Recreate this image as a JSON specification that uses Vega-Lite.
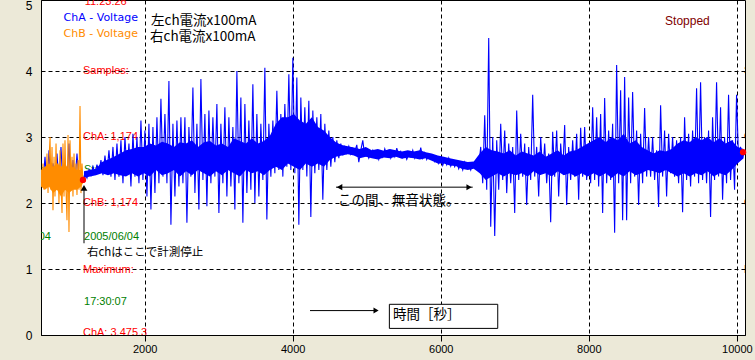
{
"$schema":"https://vega.github.io/schema/vega-lite/v6.json",
"width":704,"height":335,
"autosize":{"type":"none"},
"padding":{"left":41,"top":0,"right":10,"bottom":25},
"background":"#ECE9D8",
"config":{"view":{"fill":"white","stroke":"black","strokeWidth":1}},
"datasets":{
"blue":[{"t":600,"v":2.45},{"t":627,"v":2.3},{"t":654,"v":2.7},{"t":681,"v":2.25},{"t":708,"v":2.8},{"t":735,"v":2.3},{"t":762,"v":2.6},{"t":789,"v":2.2},{"t":816,"v":2.75},{"t":843,"v":2.3},{"t":870,"v":2.85},{"t":897,"v":2.25},{"t":924,"v":2.6},{"t":951,"v":2.3},{"t":978,"v":2.9},{"t":1005,"v":2.2},{"t":1032,"v":2.65},{"t":1059,"v":2.3},{"t":1086,"v":2.75},{"t":1113,"v":2.35},{"t":1140,"v":2.5},{"t":1167,"v":2.35},
{"t":1194,"v":2.45},{"t":1221,"v":2.38},{"t":1248,"v":2.5},{"t":1275,"v":2.42},{"t":1302,"v":2.55},{"t":1329,"v":2.45},{"t":1356,"v":2.58},{"t":1383,"v":2.47},
{"t":1410,"v":2.65},{"t":1437,"v":2.42},{"t":1464,"v":2.72},{"t":1491,"v":2.45},{"t":1518,"v":2.8},{"t":1545,"v":2.4},{"t":1572,"v":2.85},{"t":1599,"v":2.35},{"t":1626,"v":2.9},{"t":1653,"v":2.4},{"t":1680,"v":2.95},{"t":1707,"v":2.3},{"t":1734,"v":3.0},{"t":1761,"v":2.45},{"t":1788,"v":2.9},{"t":1815,"v":2.25},{"t":1842,"v":3.05},{"t":1869,"v":2.4},{"t":1896,"v":3.0},{"t":1923,"v":2.3},
{"t":1950,"v":3.25},{"t":1977,"v":2.35},{"t":2004,"v":3.1},{"t":2031,"v":2.1},{"t":2058,"v":3.2},{"t":2085,"v":1.9},{"t":2112,"v":3.15},{"t":2139,"v":2.15},{"t":2166,"v":3.3},{"t":2193,"v":2.3},{"t":2220,"v":3.58},{"t":2247,"v":2.4},{"t":2274,"v":3.35},{"t":2301,"v":2.3},{"t":2328,"v":3.85},{"t":2355,"v":1.67},{"t":2382,"v":3.2},{"t":2409,"v":2.1},{"t":2436,"v":3.25},{"t":2463,"v":2.25},{"t":2490,"v":3.3},{"t":2517,"v":2.3},{"t":2544,"v":3.3},{"t":2571,"v":1.7},{"t":2598,"v":3.15},{"t":2625,"v":2.4},{"t":2652,"v":3.75},{"t":2679,"v":2.15},{"t":2706,"v":3.2},{"t":2733,"v":1.9},{"t":2760,"v":3.88},{"t":2787,"v":2.35},{"t":2814,"v":3.35},{"t":2841,"v":1.95},{"t":2868,"v":3.4},{"t":2895,"v":2.3},{"t":2922,"v":3.3},{"t":2949,"v":2.4},{"t":2976,"v":3.5},{"t":3003,"v":1.85},{"t":3030,"v":3.2},{"t":3057,"v":2.3},{"t":3084,"v":3.45},{"t":3111,"v":2.1},{"t":3138,"v":3.3},{"t":3165,"v":2.25},{"t":3192,"v":3.15},{"t":3219,"v":1.9},{"t":3246,"v":4.0},{"t":3273,"v":2.3},{"t":3300,"v":3.6},{"t":3327,"v":1.7},{"t":3354,"v":3.5},{"t":3381,"v":2.15},{"t":3408,"v":3.25},{"t":3435,"v":2.2},{"t":3462,"v":3.8},{"t":3489,"v":2.0},{"t":3516,"v":3.35},{"t":3543,"v":2.1},{"t":3570,"v":3.2},{"t":3597,"v":2.35},{"t":3624,"v":4.05},{"t":3651,"v":1.75},{"t":3678,"v":3.2},{"t":3705,"v":2.4},
{"t":3732,"v":3.25},{"t":3759,"v":2.45},{"t":3786,"v":3.7},{"t":3813,"v":2.5},{"t":3840,"v":3.35},{"t":3867,"v":2.4},{"t":3894,"v":3.5},{"t":3921,"v":2.55},{"t":3948,"v":3.95},{"t":3975,"v":2.5},{"t":4002,"v":4.2},{"t":4029,"v":2.45},{"t":4056,"v":3.9},{"t":4083,"v":1.67},{"t":4110,"v":3.6},{"t":4137,"v":2.5},{"t":4164,"v":3.45},{"t":4191,"v":2.4},{"t":4218,"v":3.55},{"t":4245,"v":1.79},{"t":4272,"v":3.4},{"t":4299,"v":2.45},{"t":4326,"v":3.3},{"t":4353,"v":2.5},{"t":4380,"v":3.35},{"t":4407,"v":2.05},{"t":4434,"v":3.2},{"t":4461,"v":2.5},{"t":4488,"v":3.1},{"t":4515,"v":2.55},
{"t":4542,"v":3.0},{"t":4569,"v":2.62},{"t":4596,"v":2.95},{"t":4623,"v":2.68},{"t":4650,"v":2.9},{"t":4677,"v":2.72},{"t":4704,"v":2.85},
{"t":4731,"v":2.76},{"t":4758,"v":2.86},{"t":4785,"v":2.74},{"t":4812,"v":2.83},{"t":4839,"v":2.78},{"t":4866,"v":2.88},{"t":4893,"v":2.62},{"t":4920,"v":2.8},{"t":4947,"v":2.95},{"t":4974,"v":2.7},{"t":5001,"v":2.78},{"t":5028,"v":2.68},{"t":5055,"v":2.75},{"t":5082,"v":2.8},{"t":5109,"v":2.7},{"t":5136,"v":2.76},{"t":5163,"v":2.66},{"t":5190,"v":2.78},{"t":5217,"v":2.7},{"t":5244,"v":2.82},{"t":5271,"v":2.72},{"t":5298,"v":2.79},{"t":5325,"v":2.68},{"t":5352,"v":2.76},{"t":5379,"v":2.7},{"t":5406,"v":2.83},{"t":5433,"v":2.72},{"t":5460,"v":2.78},{"t":5487,"v":2.69},{"t":5514,"v":2.75},{"t":5541,"v":2.66},{"t":5568,"v":2.74},{"t":5595,"v":2.7},{"t":5622,"v":2.8},{"t":5649,"v":2.68},{"t":5676,"v":2.77},{"t":5703,"v":2.7},{"t":5730,"v":2.84},{"t":5757,"v":2.68},{"t":5784,"v":2.76},{"t":5811,"v":2.66},{"t":5838,"v":2.74},{"t":5865,"v":2.67},{"t":5892,"v":2.72},{"t":5919,"v":2.63},{"t":5946,"v":2.7},{"t":5973,"v":2.6},{"t":6000,"v":2.67},{"t":6027,"v":2.57},{"t":6054,"v":2.66},{"t":6081,"v":2.58},{"t":6108,"v":2.68},{"t":6135,"v":2.56},{"t":6162,"v":2.64},{"t":6189,"v":2.55},{"t":6216,"v":2.62},{"t":6243,"v":2.52},{"t":6270,"v":2.6},{"t":6297,"v":2.5},{"t":6324,"v":2.62},{"t":6351,"v":2.54},{"t":6378,"v":2.58},{"t":6405,"v":2.5},{"t":6432,"v":2.6},{"t":6459,"v":2.53},{"t":6486,"v":2.62},{"t":6513,"v":2.55},
{"t":6540,"v":2.85},{"t":6567,"v":2.3},{"t":6594,"v":3.33},{"t":6621,"v":2.2},{"t":6648,"v":4.5},{"t":6675,"v":1.64},{"t":6702,"v":3.0},{"t":6729,"v":1.5},{"t":6756,"v":2.95},{"t":6783,"v":2.2},{"t":6810,"v":3.2},{"t":6837,"v":2.35},{"t":6864,"v":3.1},{"t":6891,"v":2.15},{"t":6918,"v":2.9},{"t":6945,"v":2.3},{"t":6972,"v":2.85},{"t":6999,"v":1.85},{"t":7026,"v":3.4},{"t":7053,"v":2.35},{"t":7080,"v":3.05},{"t":7107,"v":2.4},{"t":7134,"v":2.9},{"t":7161,"v":1.97},{"t":7188,"v":2.85},{"t":7215,"v":2.35},{"t":7242,"v":3.64},{"t":7269,"v":2.4},{"t":7296,"v":2.85},{"t":7323,"v":2.1},{"t":7350,"v":3.0},{"t":7377,"v":2.45},{"t":7404,"v":2.9},{"t":7431,"v":2.3},{"t":7458,"v":2.75},{"t":7485,"v":1.71},{"t":7512,"v":3.08},{"t":7539,"v":2.4},{"t":7566,"v":3.1},{"t":7593,"v":2.1},{"t":7620,"v":2.9},{"t":7647,"v":2.45},{"t":7674,"v":3.18},{"t":7701,"v":1.97},{"t":7728,"v":2.85},{"t":7755,"v":2.35},{"t":7782,"v":2.95},{"t":7809,"v":2.4},{"t":7836,"v":3.05},{"t":7863,"v":2.05},{"t":7890,"v":3.14},{"t":7917,"v":2.4},{"t":7944,"v":3.15},{"t":7971,"v":2.35},{"t":7998,"v":2.85},{"t":8025,"v":2.3},{"t":8052,"v":3.45},{"t":8079,"v":2.35},{"t":8106,"v":3.3},{"t":8133,"v":2.25},{"t":8160,"v":3.35},{"t":8187,"v":1.85},{"t":8214,"v":3.59},{"t":8241,"v":2.3},{"t":8268,"v":3.1},{"t":8295,"v":2.35},{"t":8322,"v":3.2},{"t":8349,"v":1.55},{"t":8376,"v":4.09},{"t":8403,"v":2.3},{"t":8430,"v":3.71},{"t":8457,"v":1.74},{"t":8484,"v":3.91},{"t":8511,"v":1.74},{"t":8538,"v":3.6},{"t":8565,"v":2.3},{"t":8592,"v":3.68},{"t":8619,"v":2.4},{"t":8646,"v":3.1},{"t":8673,"v":1.97},{"t":8700,"v":3.05},{"t":8727,"v":2.3},{"t":8754,"v":3.44},{"t":8781,"v":2.4},{"t":8808,"v":3.0},{"t":8835,"v":2.4},{"t":8862,"v":3.0},{"t":8889,"v":2.35},{"t":8916,"v":2.8},{"t":8943,"v":1.94},{"t":8970,"v":3.48},{"t":8997,"v":2.4},{"t":9024,"v":3.1},{"t":9051,"v":2.1},{"t":9078,"v":3.05},{"t":9105,"v":2.45},{"t":9132,"v":3.0},{"t":9159,"v":2.4},{"t":9186,"v":2.95},{"t":9213,"v":2.3},{"t":9240,"v":3.0},{"t":9267,"v":1.86},{"t":9294,"v":3.3},{"t":9321,"v":2.35},{"t":9348,"v":3.05},{"t":9375,"v":2.25},{"t":9402,"v":3.1},{"t":9429,"v":2.4},{"t":9456,"v":3.74},{"t":9483,"v":2.3},{"t":9510,"v":3.83},{"t":9537,"v":2.35},{"t":9564,"v":3.0},{"t":9591,"v":2.3},{"t":9618,"v":3.1},{"t":9645,"v":1.79},{"t":9672,"v":3.3},{"t":9699,"v":2.35},{"t":9726,"v":3.83},{"t":9753,"v":2.4},{"t":9780,"v":3.45},{"t":9807,"v":2.05},{"t":9834,"v":3.0},{"t":9861,"v":2.3},{"t":9888,"v":3.64},{"t":9915,"v":2.35},{"t":9942,"v":2.95},{"t":9969,"v":2.2},{"t":9996,"v":3.64},{"t":10023,"v":2.65},{"t":10050,"v":2.85},{"t":10077,"v":2.7},{"t":10104,"v":2.76}],
"blueband":[{"t":1181,"lo":2.38,"hi":2.48},{"t":1262,"lo":2.4,"hi":2.5},{"t":1343,"lo":2.42,"hi":2.52},{"t":1424,"lo":2.45,"hi":2.62},{"t":1505,"lo":2.42,"hi":2.66},{"t":1586,"lo":2.45,"hi":2.7},{"t":1667,"lo":2.42,"hi":2.75},{"t":1748,"lo":2.4,"hi":2.8},{"t":1829,"lo":2.45,"hi":2.82},{"t":1910,"lo":2.4,"hi":2.85},{"t":1991,"lo":2.45,"hi":2.85},{"t":2072,"lo":2.4,"hi":2.9},{"t":2153,"lo":2.5,"hi":2.87},{"t":2234,"lo":2.42,"hi":2.93},{"t":2315,"lo":2.45,"hi":2.9},{"t":2396,"lo":2.5,"hi":2.85},{"t":2477,"lo":2.4,"hi":2.92},{"t":2558,"lo":2.48,"hi":2.9},{"t":2639,"lo":2.42,"hi":2.95},{"t":2720,"lo":2.5,"hi":2.85},{"t":2801,"lo":2.45,"hi":2.92},{"t":2882,"lo":2.4,"hi":2.94},{"t":2963,"lo":2.48,"hi":2.87},{"t":3044,"lo":2.42,"hi":2.9},{"t":3125,"lo":2.5,"hi":2.85},{"t":3206,"lo":2.45,"hi":2.98},{"t":3287,"lo":2.4,"hi":2.94},{"t":3368,"lo":2.5,"hi":2.9},{"t":3449,"lo":2.45,"hi":2.98},{"t":3530,"lo":2.48,"hi":2.9},{"t":3611,"lo":2.42,"hi":2.94},{"t":3692,"lo":2.5,"hi":3.02},{"t":3773,"lo":2.55,"hi":3.2},{"t":3854,"lo":2.5,"hi":3.3},{"t":3935,"lo":2.6,"hi":3.3},{"t":4016,"lo":2.55,"hi":3.35},{"t":4097,"lo":2.5,"hi":3.25},{"t":4178,"lo":2.6,"hi":3.2},{"t":4259,"lo":2.55,"hi":3.3},{"t":4340,"lo":2.6,"hi":3.15},{"t":4421,"lo":2.55,"hi":3.1},{"t":4502,"lo":2.65,"hi":3.0},{"t":4583,"lo":2.7,"hi":2.92},{"t":4664,"lo":2.72,"hi":2.88},{"t":4745,"lo":2.74,"hi":2.86},{"t":4826,"lo":2.72,"hi":2.84},{"t":4907,"lo":2.68,"hi":2.82},{"t":4988,"lo":2.7,"hi":2.85},{"t":5069,"lo":2.68,"hi":2.8},{"t":5150,"lo":2.66,"hi":2.82},{"t":5231,"lo":2.69,"hi":2.79},{"t":5312,"lo":2.68,"hi":2.82},{"t":5393,"lo":2.7,"hi":2.8},{"t":5474,"lo":2.67,"hi":2.78},{"t":5555,"lo":2.69,"hi":2.8},{"t":5636,"lo":2.68,"hi":2.78},{"t":5717,"lo":2.66,"hi":2.8},{"t":5798,"lo":2.68,"hi":2.77},{"t":5879,"lo":2.64,"hi":2.75},{"t":5960,"lo":2.6,"hi":2.72},{"t":6041,"lo":2.6,"hi":2.7},{"t":6122,"lo":2.57,"hi":2.68},{"t":6203,"lo":2.56,"hi":2.66},{"t":6284,"lo":2.52,"hi":2.64},{"t":6365,"lo":2.5,"hi":2.62},{"t":6446,"lo":2.52,"hi":2.63},{"t":6527,"lo":2.45,"hi":2.75},{"t":6608,"lo":2.35,"hi":2.85},{"t":6689,"lo":2.4,"hi":2.8},{"t":6770,"lo":2.45,"hi":2.78},{"t":6851,"lo":2.4,"hi":2.75},{"t":6932,"lo":2.45,"hi":2.8},{"t":7013,"lo":2.42,"hi":2.72},{"t":7094,"lo":2.45,"hi":2.78},{"t":7175,"lo":2.4,"hi":2.75},{"t":7256,"lo":2.48,"hi":2.72},{"t":7337,"lo":2.42,"hi":2.78},{"t":7418,"lo":2.45,"hi":2.7},{"t":7499,"lo":2.4,"hi":2.75},{"t":7580,"lo":2.48,"hi":2.8},{"t":7661,"lo":2.42,"hi":2.72},{"t":7742,"lo":2.45,"hi":2.78},{"t":7823,"lo":2.4,"hi":2.8},{"t":7904,"lo":2.45,"hi":2.85},{"t":7985,"lo":2.4,"hi":2.9},{"t":8066,"lo":2.45,"hi":2.95},{"t":8147,"lo":2.4,"hi":3.0},{"t":8228,"lo":2.45,"hi":2.92},{"t":8309,"lo":2.38,"hi":3.0},{"t":8390,"lo":2.45,"hi":2.95},{"t":8471,"lo":2.4,"hi":3.05},{"t":8552,"lo":2.48,"hi":2.9},{"t":8633,"lo":2.42,"hi":2.95},{"t":8714,"lo":2.45,"hi":2.85},{"t":8795,"lo":2.5,"hi":2.8},{"t":8876,"lo":2.48,"hi":2.75},{"t":8957,"lo":2.45,"hi":2.8},{"t":9038,"lo":2.5,"hi":2.78},{"t":9119,"lo":2.45,"hi":2.82},{"t":9200,"lo":2.4,"hi":2.9},{"t":9281,"lo":2.45,"hi":2.95},{"t":9362,"lo":2.4,"hi":2.92},{"t":9443,"lo":2.45,"hi":3.0},{"t":9524,"lo":2.42,"hi":2.95},{"t":9605,"lo":2.48,"hi":3.0},{"t":9686,"lo":2.4,"hi":2.92},{"t":9767,"lo":2.45,"hi":2.98},{"t":9848,"lo":2.42,"hi":2.9},{"t":9929,"lo":2.5,"hi":2.95},{"t":10010,"lo":2.6,"hi":2.85},{"t":10091,"lo":2.68,"hi":2.82}],
"orange":[{"t":600,"v":2.4},{"t":614,"v":2.25},{"t":627,"v":2.6},{"t":641,"v":2.2},{"t":654,"v":2.55},{"t":668,"v":2.3},{"t":681,"v":2.75},{"t":695,"v":2.15},{"t":708,"v":2.65},{"t":722,"v":3.0},{"t":735,"v":2.2},{"t":749,"v":2.85},{"t":762,"v":1.89},{"t":776,"v":2.7},{"t":789,"v":2.1},{"t":803,"v":2.9},{"t":816,"v":2.2},{"t":830,"v":2.6},{"t":843,"v":2.0},{"t":857,"v":2.8},{"t":870,"v":2.3},{"t":884,"v":1.85},{"t":897,"v":2.9},{"t":911,"v":2.1},{"t":924,"v":2.95},{"t":938,"v":2.2},{"t":951,"v":1.74},{"t":965,"v":3.03},{"t":978,"v":1.56},{"t":992,"v":2.95},{"t":1005,"v":2.3},{"t":1019,"v":2.7},{"t":1032,"v":2.1},{"t":1046,"v":2.75},{"t":1059,"v":2.25},{"t":1073,"v":2.6},{"t":1086,"v":2.12},{"t":1100,"v":2.65},{"t":1113,"v":2.2},{"t":1127,"v":3.47},{"t":1140,"v":2.15},{"t":1154,"v":2.6},{"t":1167,"v":2.35}],
"orangeband":[{"t":600,"lo":2.25,"hi":2.5},{"t":654,"lo":2.2,"hi":2.55},{"t":708,"lo":2.25,"hi":2.6},{"t":762,"lo":2.15,"hi":2.55},{"t":816,"lo":2.2,"hi":2.6},{"t":870,"lo":2.1,"hi":2.55},{"t":924,"lo":2.2,"hi":2.6},{"t":978,"lo":2.15,"hi":2.5},{"t":1032,"lo":2.2,"hi":2.55},{"t":1086,"lo":2.2,"hi":2.5},{"t":1140,"lo":2.25,"hi":2.5},{"t":1167,"lo":2.3,"hi":2.4}],
"dots":[{"t":1167,"v":2.35},{"t":10084,"v":2.77}],
"redtxt":[{"t":1190,"v":5.045,"s":"11:23:26"},{"t":1167,"v":4.0,"s":"Samples:"},{"t":1167,"v":3.0,"s":"ChA: 1,174"},{"t":1167,"v":2.0,"s":"ChB: 1,174"},{"t":1167,"v":0.98,"s":"Maximum:"},{"t":1167,"v":0.03,"s":"ChA: 3,475.3"},{"t":10096,"v":4.0,"s":"Samples:"},{"t":10096,"v":3.0,"s":"ChA: 1,174"},{"t":10096,"v":2.0,"s":"ChB: 1,174"},{"t":10096,"v":0.98,"s":"Maximum:"}],
"greentxt":[{"t":1181,"v":2.5,"s":"Started:"},{"t":1181,"v":1.49,"s":"2005/06/04"},{"t":1181,"v":0.5,"s":"17:30:07"}],
"greencut":[{"t":640,"v":2.5,"s":"Started:"},{"t":735,"v":1.49,"s":"2005/06/04"}],
"legA":[{"t":1910,"v":4.8,"s":"ChA - Voltage"}],
"legB":[{"t":1910,"v":4.56,"s":"ChB - Voltage"}],
"stopped":[{"t":9030,"v":4.76,"s":"Stopped"}],
"jp14":[{"t":2086,"v":4.76,"s":"左ch電流x100mA"},{"t":2073,"v":4.51,"s":"右ch電流x100mA"}],
"jp12":[{"t":1221,"v":1.235,"s":"右chはここで計測停止"}],
"jp13":[{"t":4612,"v":2.03,"s":"この間、無音状態。"},{"t":5356,"v":0.3,"s":"時間［秒］"}],
"rules":[{"t":1181,"v":2.2,"t2":1181,"v2":1.39},{"t":4585,"v":2.24,"t2":6432,"v2":2.24},{"t":4234,"v":0.37,"t2":5139,"v2":0.37}],
"headUp":[{"t":1181,"v":2.23}],
"headLeft":[{"t":4633,"v":2.24}],
"headRight":[{"t":6382,"v":2.24},{"t":5126,"v":0.37}],
"box":[{"t":5306,"t2":6770,"v":0.1,"v2":0.465}]
},
"encoding":{
"x":{"field":"t","type":"quantitative","scale":{"domain":[600,10110],"nice":false,"zero":false},
 "axis":{"values":[2000,4000,6000,8000,10000],"format":"d","title":null,"tickSize":6,"tickColor":"black","domainColor":"black","labelPadding":2,"labelFont":"Liberation Sans","labelFontSize":11,"labelColor":"black","labelFlush":false,"grid":true,"gridColor":"black","gridDash":[4,3],"gridOpacity":1}},
"y":{"field":"v","type":"quantitative","scale":{"domain":[0,5.076],"nice":false,"zero":false},
 "axis":{"values":[0,1,2,3,4,5],"title":null,"ticks":false,"domainColor":"black","labelPadding":9,"labelFont":"Liberation Sans","labelFontSize":12,"labelColor":"black","labelFlush":false,"grid":true,"gridColor":"black","gridDash":[4,3],"gridOpacity":{"condition":{"test":"datum.value==0||datum.value==5","value":0},"value":1}}}
},
"layer":[
{"data":{"name":"redtxt"},"mark":{"type":"text","align":"left","baseline":"middle","font":"Liberation Sans","fontSize":11,"color":"#FF0000","clip":true},"encoding":{"text":{"field":"s"}}},
{"data":{"name":"greentxt"},"mark":{"type":"text","align":"left","baseline":"middle","font":"Liberation Sans","fontSize":11,"color":"#008000","clip":true},"encoding":{"text":{"field":"s"}}},
{"data":{"name":"greencut"},"mark":{"type":"text","align":"right","baseline":"middle","font":"Liberation Sans","fontSize":11,"color":"#008000","clip":true},"encoding":{"text":{"field":"s"}}},
{"data":{"name":"blue"},"mark":{"type":"line","color":"#0000FF","strokeWidth":1.1,"clip":true},"encoding":{}},
{"data":{"name":"blueband"},"mark":{"type":"area","color":"#0000FF","opacity":1,"clip":true},"encoding":{"y":{"field":"hi"},"y2":{"field":"lo"}}},
{"data":{"name":"orange"},"mark":{"type":"line","color":"#FF8C00","strokeWidth":1.1,"clip":true},"encoding":{}},
{"data":{"name":"orangeband"},"mark":{"type":"area","color":"#FF8C00","opacity":1,"clip":true},"encoding":{"y":{"field":"hi"},"y2":{"field":"lo"}}},
{"data":{"name":"dots"},"mark":{"type":"point","shape":"circle","filled":true,"opacity":1,"color":"#FF0000","size":40},"encoding":{}},
{"data":{"name":"legA"},"mark":{"type":"text","align":"right","baseline":"middle","font":"DejaVu Sans","fontSize":11,"color":"#0000FF"},"encoding":{"text":{"field":"s"}}},
{"data":{"name":"legB"},"mark":{"type":"text","align":"right","baseline":"middle","font":"DejaVu Sans","fontSize":11,"color":"#FF8C00"},"encoding":{"text":{"field":"s"}}},
{"data":{"name":"stopped"},"mark":{"type":"text","align":"left","baseline":"middle","font":"Liberation Sans","fontSize":12,"color":"#800000"},"encoding":{"text":{"field":"s"}}},
{"data":{"name":"jp14"},"mark":{"type":"text","align":"left","baseline":"middle","font":"Noto Sans CJK JP","fontSize":13.5,"color":"black"},"encoding":{"text":{"field":"s"}}},
{"data":{"name":"jp12"},"mark":{"type":"text","align":"left","baseline":"middle","font":"Noto Sans CJK JP","fontSize":11.5,"color":"black"},"encoding":{"text":{"field":"s"}}},
{"data":{"name":"rules"},"mark":{"type":"rule","color":"black","strokeWidth":1},"encoding":{"x2":{"field":"t2"},"y2":{"field":"v2"}}},
{"data":{"name":"headUp"},"mark":{"type":"point","shape":"triangle-up","filled":true,"opacity":1,"color":"black","size":45},"encoding":{}},
{"data":{"name":"headLeft"},"mark":{"type":"point","shape":"triangle-left","filled":true,"opacity":1,"color":"black","size":40},"encoding":{}},
{"data":{"name":"headRight"},"mark":{"type":"point","shape":"triangle-right","filled":true,"opacity":1,"color":"black","size":35},"encoding":{}},
{"data":{"name":"box"},"mark":{"type":"rect","fill":"white","stroke":"black","strokeWidth":1},"encoding":{"x2":{"field":"t2"},"y2":{"field":"v2"}}},
{"data":{"name":"jp13"},"mark":{"type":"text","align":"left","baseline":"middle","font":"Noto Sans CJK JP","fontSize":13.5,"color":"black"},"encoding":{"text":{"field":"s"}}}
]
}
